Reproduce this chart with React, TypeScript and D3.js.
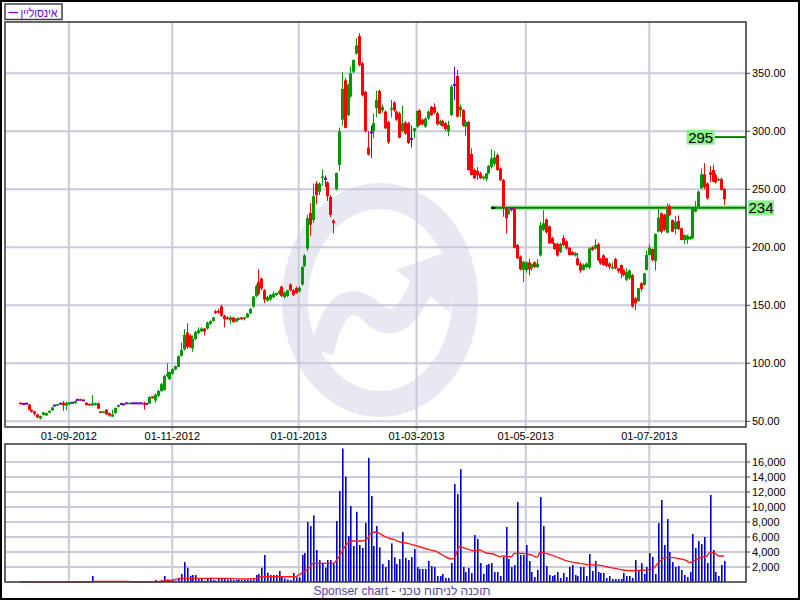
import React from 'react';
import * as d3 from 'd3';

// [open, high, low, close] per trading day
const candles: [number, number, number, number][] = [
  [66,66.5,64.5,64.8],[65,65.3,64.8,65],[65.2,65.3,65,65.2],[64.5,64.8,59.5,59.8],[59.8,60.2,57.5,58.2],
  [58.5,59,55,56.5],[56,56.5,52.5,53.5],[52.5,55,51.5,54.5],[55.5,58,55,57.8],[55,57.5,54.5,57],
  [57.5,59.5,57,59],[59.5,62.5,59,62],[63.6,63.8,63.4,63.6],[64,65,63.5,64.8],[65.2,65.4,65,65.2],
  [66,67.5,59,63.8],[63.5,67,59.5,66],[64.5,66.5,64,66.5],[66,66.2,65.8,66],[65.5,68,65,67.5],
  [68.5,68.7,68.3,68.5],[69,69.5,68,68.5],[68,68.2,67.8,68],[66,66.5,63.5,64],[65,65.5,63.5,63.8],
  [63.8,72.5,63,65.5],[64,66,63.5,65.5],[65.5,66,60.5,61],[58.5,59,57.5,57.8],[57.5,59,57,58.5],
  [60,60.5,55.5,56],[57,57.5,54,55],[54,60,53.5,56],[57,62,56.5,61.5],[62.5,64.5,62,64],
  [65,65.2,64.8,65],[64.5,64.6,64.4,64.5],[65.5,65.6,65.4,65.5],[65.2,66,65,66],[65.5,65.6,65.4,65.5],
  [65.5,65.6,65.4,65.5],[65.5,65.6,65.4,65.5],[65.5,65.6,65.4,65.5],[65.5,67,60,64.5],[65,65.2,64.8,65],
  [65.2,71.5,65,71],[71.5,71.6,69.5,70],[68,74,66,73],[72,77,71,76],[76,83,75.5,82],
  [77,90,76.5,89],[89,100,88,91],[86.5,93,85.5,92.5],[91,95.5,90,95],[94.5,98,94,97.5],
  [97,107,96.5,106],[106.5,118,106,111.5],[112,129.5,111,124.5],[126.5,134.5,112.5,114],[124,125,113,114],
  [113,124,110,121],[121,128,120,127],[126,131,125,128.5],[127.5,131,127,130],[130,130.5,124,127.5],
  [130,136,129,135],[134,137,133,136.5],[136.5,140,136,139.5],[145,146,142.5,143.5],[145,147,143,144],
  [149,150.5,140,141],[141,142,131,138],[139.5,140.5,137.5,138.5],[137,141,134,139.5],[139.5,140,135,135.5],
  [136,139,135.5,138.5],[137.5,139.5,137,139],[139.5,140,137.5,138],[138,140,137,139.5],[139.5,143.5,139,143],
  [143,147.5,142.5,147],[149,158,148,157.5],[158,168,157,166.5],[170,181,159,160],[173,174,163,164.5],
  [163,164,152,155],[154,158,153,157],[155,159.5,154,159],[157,162,156,160],[159,161,158,160.5],
  [160,163.5,159,162],[166,167,157,158],[157,162,156,161],[158,163,157,163],[168,169,162,163],
  [163,164,158,159],[165,166,160,160.5],[162,166.5,161,165],[168,184,167,183],[184,194,183,193],
  [199,228,197,225],[229.5,238,210,219.5],[223.5,255,221,244],[255,257,237,245],[248,256,245,255],
  [260,267,253,261],[259,262,252,259],[256,257,240,244],[243.5,245,226,228],[223,224,212,221],
  [250,264.5,249,264],[271,303,266,300],[310,351,305,336.5],[344,346,302.6,303],[314,341,313,340],
  [330,356,329,350],[351.4,362,350,361.5],[367,380,366,374],[382,384.5,356,357],[358.6,360,330,331],
  [334,335,299,300],[286,300,279,280],[299,305,277,299],[300,315,294,307],[320,335,312,327],
  [334.8,336,315,315.5],[318,323,316,321],[317,318,302,302.6],[308,309,289,290.5],[319,327,312,320],
  [324.7,326,317,318],[317,318,309,310],[315.5,317,294,294.5],[300,322,299,307],[307.5,309,297,298],
  [307,308,289,290],[293.4,305,286,293.4],[300,303,294,302.6],[304,318,303,317.5],[318,319,305,305.5],
  [310,311,305,306],[304,312,303,311],[311,318,310,317],[321,322,313,314],[321,324,315,316],
  [315.5,317,305,306],[306,310,305,309],[309,310,304,304.5],[307,308,300,302],[300,309,296,305.5],
  [314,340,313,338.5],[340,355.7,327,340],[347.7,353,312,312.6],[318,323,312,321],[318.4,319,304,305],
  [304,310,296,308],[308,309,266,266.7],[280.5,285.3,262,262.4],[266.7,268,259,259.5],[266,269,258,262],
  [263.8,265,259,259.5],[259.5,262,258,261],[259,264,257,263.8],[263.8,271,263,270],[269.5,284.5,268,276.7],
  [272,283,270,277.5],[279.6,281,266,266.7],[268,269,257,258],[258,259,226.4,235],[233.6,234,212,225],
  [229,233.5,228,232.5],[233,234,231,233],[233,234,199,199.5],[202,203,190,190.5],[192,193,180,181],
  [180.5,188,170,187.6],[180.5,188,178,187],[187,190,176,181],[182,186,180,185.5],[187,188,182,183],
  [183,190,182,186],[193,222,192,219],[215,232,214,220.7],[224,225,212,213],[218,219,203,203.4],
  [208,209,203,203.4],[203.4,204,198,198.3],[203,204,192,193],[196,204,195,203],[208,210.5,201,202],
  [205,206,198,199],[199.7,200,193,193.4],[196,197,193,193.4],[193,196,192,195],[190.5,195,184,184.8],
  [186,187,178,180],[180.5,186,180,185],[183,187,182,186],[182.5,200,181,199],[200,201,197,197.7],
  [199,207,198,202],[202.6,204,188,189],[190,191,185,186],[193,194,184,184.8],[190.5,191,183,184],
  [186,187,181,183],[181.9,187,181,183],[190,191,181,181.9],[181.9,182,178,179.5],[184.8,185,173.3,177.6],
  [180.5,181,175,176.1],[172,182,171,179],[173.3,181,172,180],[176,177,148,149],[156,157,146,151.7],
  [153.7,165,153,164.7],[169,170,162,164.1],[167.5,178,167,177.6],[180.5,197,180,193.4],[193.4,203,193,199.7],
  [198.6,199,188,189],[188.2,212,180,211.5],[213.5,233,213,225.6],[229.3,230,212,213.5],[228,229,214,215],
  [212.6,238,212,233],[235.6,237,227,227.9],[223.6,224,213,213.5],[215.8,227,211,222],[222.7,227.5,215,215.8],
  [216.4,217,206,206.3],[206.3,211,203,210.6],[206.5,211,203,210],[207,210,206.5,209],[208,234,207,233.6],
  [230.7,240,230,233.6],[233.6,249,233,248],[251,268,250,263],[263,272.4,250,251.7],[255,256,241,242.2],
  [264.7,270,256,262.4],[266.7,271,256,256.6],[262.4,264,255,256],[258,260,257,258.8],[259,260,249,249.4],
  [250.3,251,236.5,241.4],
];

const volumes: number[] = [
  0,0,0,0,0,130,0,130,0,0,
  0,0,0,0,0,130,130,0,0,130,
  130,0,0,0,130,800,100,100,100,100,
  100,100,100,100,100,100,100,100,0,0,
  0,0,0,0,0,130,0,270,130,270,
  800,350,270,270,180,580,1070,2660,1900,840,
  930,930,490,440,180,440,580,270,180,490,
  490,490,350,350,270,270,350,270,350,350,
  350,350,930,1070,1900,3600,1240,930,930,930,
  1470,800,490,350,270,1200,620,620,3600,3860,
  8000,7460,8880,4260,2930,2580,1910,2930,2930,2490,
  8130,12120,17800,14030,6130,10130,4800,9370,4930,4530,
  7900,16560,11460,4800,7460,4620,2400,2000,2930,5150,
  3290,2400,3060,6660,3200,2930,3330,4400,2000,1730,
  1730,1730,2800,2130,2000,800,800,1070,530,530,
  2530,13060,11720,15050,2000,1330,1870,1200,6260,5730,
  2530,1070,2260,2400,2530,1330,1330,800,3330,7330,
  3060,2000,2260,10660,3600,3600,4930,2800,1330,670,
  1600,11330,7460,2130,930,800,930,1330,530,1200,
  670,2000,2260,930,800,2000,2000,800,3730,1470,
  2800,1330,1200,1200,530,800,400,400,400,400,
  1200,800,800,530,2930,1600,2530,1070,2000,3860,
  3330,1070,7860,10930,4930,8390,4000,2660,2000,2130,
  1600,930,670,1330,6400,4530,5460,5060,6000,2530,
  11600,4260,1330,800,2260,2800,
];

// volume average line: [trading-day index, value]
const volumeAverage: [number, number][] = [
  [0,0],[24,0],[26,90],[37,90],[40,0],[45,0],[52,200],[56,450],[58,490],[72,490],
  [76,400],[82,450],[84,710],[96,710],[97,930],[101,2040],[102,2490],[109,2490],[111,3370],[113,4700],
  [114,5150],[116,5460],[119,5460],[121,5800],[122,6480],[124,6660],[125,6480],[127,6040],[129,5770],[130,5680],
  [132,5370],[135,5150],[137,4930],[139,4700],[143,4260],[145,4040],[147,3600],[150,3060],[151,3150],[153,4700],
  [155,4480],[158,4170],[160,4260],[162,3900],[165,3700],[167,3370],[168,3460],[171,3370],[172,3820],[175,3820],
  [178,3600],[180,3290],[181,4000],[183,3820],[186,3460],[188,3150],[190,2840],[193,2580],[195,2490],[197,2350],
  [200,2260],[202,2220],[204,2040],[207,1820],[210,1600],[212,1510],[215,1550],[218,1600],[220,1690],[222,2490],
  [224,3150],[226,3290],[229,3150],[232,2840],[233,2580],[235,2930],[238,3370],[239,3460],[240,3950],[242,3820],
  [243,3460],[245,3460],
];

const dateLabels = ['01-09-2012', '01-11-2012', '01-01-2013', '01-03-2013', '01-05-2013', '01-07-2013'];
const dateIdx = [17, 53, 97, 138, 176, 219];
const priceTicks = [50, 100, 150, 200, 250, 300, 350];
const volumeTicks = [2000, 4000, 6000, 8000, 10000, 12000, 14000, 16000];
const levelValues = [234, 295];
const levelStartIdx = [164, 232];
const levelLabelSide = ['right', 'left'];
const legendName = 'אינסוליין';
const footerText = 'Sponser chart - תוכנה לניתוח טכני';

const FONT = '"Liberation Sans", Arial, sans-serif';
const GREEN = '#009a00';
const RED = '#ff0000';
const PURPLE = '#6a00cc';
const GRID = '#cacadc';
const FRAME = '#404040';

export default function App() {
  const n = candles.length;
  const plotL = 5, plotR = 746;
  const mainTop = 22, mainBot = 427;
  const volTop = 444, volBot = 582;

  const x = d3.scaleLinear().domain([0, n - 1]).range([20, 724]);
  const y = d3.scaleLinear().domain([50, 350]).range([421.3, 73.3]);
  const yv = d3.scaleLinear().domain([0, 16000]).range([volBot, 462]);

  const maPath = d3.line<[number, number]>().x((d) => x(d[0])).y((d) => yv(d[1])).curve(d3.curveMonotoneX)(volumeAverage) || '';

  const fmtPrice = d3.format('.2f');
  const fmtVol = d3.format(',');

  return (
    <div style={{ position: 'absolute', left: 0, top: 0 }}>
      <svg width={800} height={600} style={{ display: 'block', background: '#fff' }} fontFamily={FONT}>
        <rect x={0} y={0} width={800} height={600} fill="#fff" />

        {/* watermark */}
        <g fill="none" stroke="#e8e8f2">
          <ellipse cx={380} cy={300} rx={85} ry={104} strokeWidth={26} />
          <path d="M 322 352 Q 338 282 372 312 Q 398 340 422 285" strokeWidth={24} strokeLinecap="butt" />
        </g>
        <path d="M 396 270 L 458 248 L 450 312 Z" fill="#e8e8f2" />

        {/* grid main */}
        {priceTicks.map((t) => (
          <line key={'pg' + t} x1={plotL} x2={plotR} y1={y(t)} y2={y(t)} stroke={GRID} strokeWidth={2} />
        ))}
        {dateIdx.map((d, i) => (
          <line key={'dg' + i} x1={x(d)} x2={x(d)} y1={mainTop} y2={mainBot + 4} stroke={GRID} strokeWidth={2} />
        ))}
        {/* grid volume */}
        {volumeTicks.map((t) => (
          <line key={'vg' + t} x1={plotL} x2={plotR} y1={yv(t)} y2={yv(t)} stroke={GRID} strokeWidth={2} />
        ))}
        {dateIdx.map((d, i) => (
          <line key={'vdg' + i} x1={x(d)} x2={x(d)} y1={volTop} y2={volBot} stroke={GRID} strokeWidth={2} />
        ))}

        {/* level lines */}
        {levelValues.map((v, i) => {
          const ly = y(v);
          const sx = x(levelStartIdx[i]);
          const left = levelLabelSide[i] === 'left';
          return (
            <g key={'lv' + i}>
              {!left && <line x1={sx} x2={plotR} y1={ly} y2={ly} stroke="#a6eea6" strokeWidth={5} />}
              <line x1={left ? sx + 28 : sx} x2={plotR} y1={ly} y2={ly} stroke="#008000" strokeWidth={2} />
              {!left && <line x1={sx} x2={sx + 4} y1={ly} y2={ly} stroke="#000" strokeWidth={2} />}
            </g>
          );
        })}

        {/* candles */}
        {candles.map((c, i) => {
          const [o, h, l, cl] = c;
          const cx = Math.round(x(i));
          const col = o === cl ? PURPLE : cl > o ? GREEN : RED;
          const top = Math.min(y(o), y(cl));
          const bh = Math.max(Math.abs(y(o) - y(cl)), o === cl ? 2 : 1.5);
          return (
            <g key={'c' + i}>
              <line x1={cx + 0.5} x2={cx + 0.5} y1={y(h)} y2={y(l)} stroke={col} strokeWidth={1} />
              <rect x={cx - 1} y={o === cl ? top - 1 : top} width={3} height={bh} fill={col} />
            </g>
          );
        })}

        {/* volume bars */}
        {volumes.map((v, i) =>
          v > 0 ? (
            <rect key={'v' + i} x={Math.round(x(i))} y={yv(v)} width={1.6} height={volBot - yv(v)} fill="#0000cc" />
          ) : null
        )}
        <path d={maPath} fill="none" stroke="#ff1a1a" strokeWidth={1.4} />

        {/* frames */}
        <rect x={plotL} y={mainTop} width={plotR - plotL} height={mainBot - mainTop} fill="none" stroke={FRAME} strokeWidth={1.6} />
        <rect x={plotL} y={volTop} width={plotR - plotL} height={volBot - volTop} fill="none" stroke={FRAME} strokeWidth={1.6} />
        <rect x={1} y={1} width={798} height={598} fill="none" stroke="#000" strokeWidth={2} />

        {/* price axis */}
        {priceTicks.map((t) => (
          <g key={'pt' + t}>
            <line x1={plotR} x2={plotR + 4} y1={y(t)} y2={y(t)} stroke={FRAME} strokeWidth={1} />
            <text x={plotR + 6} y={y(t) + 4} fontSize={11} fill="#000">{fmtPrice(t)}</text>
          </g>
        ))}
        {/* volume axis */}
        {volumeTicks.map((t) => (
          <g key={'vt' + t}>
            <line x1={plotR} x2={plotR + 4} y1={yv(t)} y2={yv(t)} stroke={FRAME} strokeWidth={1} />
            <text x={plotR + 6} y={yv(t) + 4} fontSize={11} fill="#000">{fmtVol(t)}</text>
          </g>
        ))}
        {/* date axis */}
        {dateIdx.map((d, i) => (
          <text key={'dl' + i} x={x(d)} y={440} fontSize={11} textAnchor="middle" fill="#000">{dateLabels[i]}</text>
        ))}

        {/* level labels */}
        {levelValues.map((v, i) => {
          const ly = y(v);
          const left = levelLabelSide[i] === 'left';
          const bx = left ? x(levelStartIdx[i]) : plotR + 2;
          return (
            <g key={'ll' + i}>
              <rect x={bx} y={ly - 7.5} width={left ? 28 : 26} height={15} fill="#8cf08c" />
              <text x={bx + (left ? 14 : 13)} y={ly + 5.5} fontSize={15} textAnchor="middle" fill="#000">{String(v)}</text>
            </g>
          );
        })}

        {/* legend */}
        <rect x={5} y={4} width={57} height={15.5} fill="#fff" stroke={FRAME} strokeWidth={1.5} />
        <line x1={8.5} x2={18} y1={12.5} y2={12.5} stroke={PURPLE} strokeWidth={1.2} />
        <text x={20.5} y={16.5} fontSize={12} fill={PURPLE} textLength={37} lengthAdjust="spacingAndGlyphs">{legendName}</text>

        {/* footer */}
        <text x={402} y={595} fontSize={12} textAnchor="middle" fill="#5546a0">{footerText}</text>
      </svg>
    </div>
  );
}
